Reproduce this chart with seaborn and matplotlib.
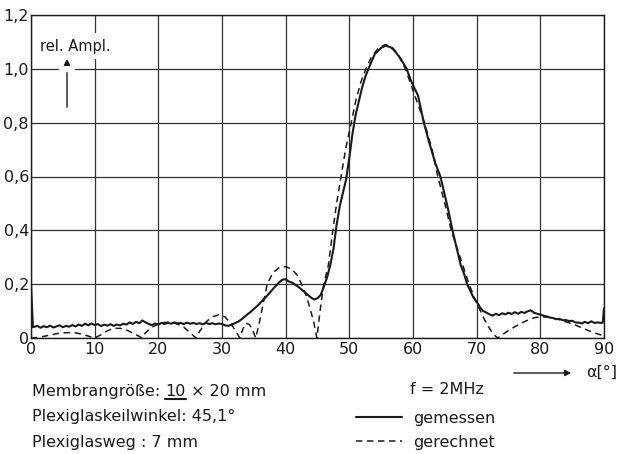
import numpy as np
import pandas as pd
import matplotlib
matplotlib.use("Agg")
import matplotlib.pyplot as plt
import matplotlib.patheffects as pe
from matplotlib.lines import Line2D
import seaborn as sns

# ---- data ----
meas_angle = [0, 0.3, 1, 1.5, 2, 2.5, 3, 3.5, 4, 4.5, 5, 5.5, 6, 6.5, 7, 7.5, 8, 8.5, 9, 9.5,
              10, 10.5, 11, 11.5, 12, 12.5, 13, 13.5, 14, 14.5, 15, 15.5, 16, 16.5, 17, 17.5, 18, 18.5, 19, 19.5,
              20, 20.5, 21, 21.5, 22, 22.5, 23, 23.5, 24, 24.5, 25, 25.5, 26, 26.5, 27, 27.5, 28, 28.5, 29, 29.5,
              30, 30.5, 31, 31.5, 32, 32.5, 33, 33.5, 34, 34.5, 35, 35.5, 36, 36.5, 37, 37.5, 38, 38.5, 39, 39.5,
              40, 40.5, 41, 41.5, 42, 42.5, 43, 43.5, 44, 44.5, 45, 45.5, 46, 46.5, 47, 47.5, 48, 48.5, 49, 49.5,
              50, 50.5, 51, 51.5, 52, 52.5, 53, 54, 55, 55.7, 56.5, 57, 58, 59, 59.7, 60.8, 61.7, 62.5, 63.5, 64.3,
              65, 65.5, 66.2, 67, 67.5, 68, 68.5, 69, 69.5, 70, 70.5, 71, 71.5, 72, 72.5, 73, 73.5, 74, 74.5,
              75, 75.5, 76, 76.5, 77, 77.5, 78, 78.5, 79, 79.5, 80, 80.5, 81, 81.5, 82, 82.5, 83, 83.5, 84, 84.5,
              85, 85.5, 86, 86.5, 87, 87.5, 88, 88.5, 89, 89.5, 89.8, 90]
meas_amp = [0.20, 0.040, 0.045, 0.038, 0.044, 0.040, 0.046, 0.039, 0.043, 0.047, 0.040, 0.045, 0.042, 0.048, 0.043, 0.050, 0.045, 0.053, 0.047, 0.054,
            0.048, 0.052, 0.044, 0.050, 0.046, 0.051, 0.045, 0.050, 0.047, 0.053, 0.050, 0.058, 0.052, 0.060, 0.055, 0.065, 0.058, 0.052, 0.048, 0.054,
            0.050, 0.056, 0.052, 0.057, 0.053, 0.058, 0.054, 0.056, 0.052, 0.057, 0.053, 0.056, 0.052, 0.055, 0.051, 0.056, 0.052, 0.055, 0.051, 0.054,
            0.052, 0.047, 0.045, 0.050, 0.055, 0.060, 0.068, 0.078, 0.088, 0.097, 0.108, 0.118, 0.130, 0.143, 0.155, 0.168, 0.182, 0.195, 0.207, 0.217,
            0.218, 0.210, 0.206, 0.198, 0.190, 0.180, 0.170, 0.160, 0.150, 0.143, 0.148, 0.160, 0.190, 0.225, 0.270, 0.330, 0.420, 0.490, 0.540, 0.590,
            0.670, 0.760, 0.830, 0.880, 0.930, 0.970, 1.000, 1.055, 1.078, 1.086, 1.080, 1.070, 1.040, 1.000, 0.955, 0.900, 0.800, 0.730, 0.650, 0.600,
            0.530, 0.480, 0.400, 0.320, 0.270, 0.240, 0.200, 0.175, 0.150, 0.135, 0.115, 0.100, 0.095, 0.088, 0.083, 0.090, 0.085, 0.092, 0.088,
            0.094, 0.089, 0.096, 0.090, 0.097, 0.093, 0.099, 0.103, 0.094, 0.090, 0.087, 0.083, 0.080, 0.076, 0.074, 0.070, 0.071, 0.066, 0.067, 0.063,
            0.064, 0.058, 0.057, 0.054, 0.060, 0.055, 0.062, 0.056, 0.058, 0.056, 0.057, 0.110]

calc_angle = [0, 1, 2, 3, 4, 5, 6, 7, 8, 9, 10, 11, 12, 13, 14, 15, 16, 17, 17.4, 18, 19,
              20, 21, 22, 23, 24, 25, 25.9, 26.5, 27.5, 28.5, 29.5, 30.5, 31.5, 32.3, 32.8, 33.3, 33.8, 34.3, 34.8,
              35.3, 35.8, 36.5, 37.1, 38, 39, 40, 41, 41.8, 42.5, 43.3, 44, 44.4, 44.9, 45.4, 45.9, 46.7, 47.3, 48,
              48.7, 49.4, 50.3, 51, 51.8, 52.6, 53.5, 54.5, 55.6, 56.5, 57.5, 58.8, 60.3, 61.8, 63, 63.9, 65, 66,
              67.4, 68.8, 69.8, 70.6, 71.3, 71.9, 72.6, 73.3, 74, 75, 76, 77, 78, 79, 80, 81, 82, 83, 84, 85, 86,
              87, 88, 89, 90]
calc_amp = [0.0, 0.002, 0.006, 0.011, 0.016, 0.019, 0.020, 0.019, 0.014, 0.007, 0.0, 0.012, 0.027, 0.036, 0.036, 0.030, 0.018, 0.006, 0.0, 0.020, 0.040,
            0.052, 0.058, 0.058, 0.052, 0.040, 0.020, 0.0, 0.025, 0.060, 0.079, 0.086, 0.078, 0.050, 0.020, 0.0, 0.035, 0.055, 0.050, 0.030,
            0.0, 0.050, 0.130, 0.200, 0.243, 0.262, 0.265, 0.255, 0.234, 0.200, 0.153, 0.095, 0.060, 0.0, 0.100, 0.190, 0.270, 0.380, 0.500,
            0.600, 0.700, 0.800, 0.880, 0.950, 1.000, 1.045, 1.075, 1.090, 1.085, 1.060, 1.000, 0.900, 0.800, 0.700, 0.600, 0.500, 0.400,
            0.300, 0.200, 0.140, 0.100, 0.065, 0.040, 0.015, 0.0, 0.012, 0.028, 0.042, 0.055, 0.066, 0.075, 0.079, 0.078, 0.074, 0.068, 0.060, 0.053, 0.043,
            0.033, 0.023, 0.015, 0.008]

series_names = ["gemessen", "gerechnet"]
x_ticks = [0, 10, 20, 30, 40, 50, 60, 70, 80, 90]
x_ticklabels = ["0", "10", "20", "30", "40", "50", "60", "70", "80", "90"]
y_ticks = [0, 0.2, 0.4, 0.6, 0.8, 1.0, 1.2]
y_ticklabels = ["0", "0,2", "0,4", "0,6", "0,8", "1,0", "1,2"]

df = pd.concat([
    pd.DataFrame({"angle": meas_angle, "amp": meas_amp, "series": series_names[0]}),
    pd.DataFrame({"angle": calc_angle, "amp": calc_amp, "series": series_names[1]}),
], ignore_index=True)

# ---- styling ----
sns.set_theme(style="white")
plt.rcParams["font.family"] = ["DejaVu Sans"]
INK = "#1a1a1a"
FS = 11.5

fig = plt.figure(figsize=(6.18, 4.54), dpi=100)
ax = fig.add_axes([31 / 618, (454 - 338) / 454, 573 / 618, 323 / 454])

sns.lineplot(data=df, x="angle", y="amp", hue="series", style="series", size="series",
             palette={"gemessen": INK, "gerechnet": INK},
             dashes={"gemessen": "", "gerechnet": (4.2, 3.0)},
             sizes={"gemessen": 1.5, "gerechnet": 1.1},
             estimator=None, ax=ax, zorder=3)

ax.set_xlim(0, 90)
ax.set_ylim(0, 1.2)
ax.set_xticks(x_ticks)
ax.set_xticklabels(x_ticklabels)
ax.set_yticks(y_ticks)
ax.set_yticklabels(y_ticklabels)
ax.tick_params(axis="both", length=0, labelsize=11.5, colors=INK)
ax.tick_params(axis="x", pad=3)
ax.tick_params(axis="y", pad=1.5)
ax.set_xlabel("")
ax.set_ylabel("")
ax.grid(True, color="#333333", linewidth=0.9)
ax.set_axisbelow(True)
for s in ax.spines.values():
    s.set_color(INK)
    s.set_linewidth(1.0)

# legend (from seaborn handles)
sns.move_legend(ax, loc="upper left", bbox_to_anchor=(356 / 618, 1 - 411 / 454),
                bbox_transform=fig.transFigure, frameon=False, title=None,
                fontsize=FS, handlelength=2.9, handletextpad=0.7, labelspacing=0.55,
                borderpad=0, borderaxespad=0)
for t in ax.get_legend().get_texts():
    t.set_color(INK)

fig.text(410 / 618, 1 - 389 / 454, "f = 2MHz", fontsize=FS, color=INK, va="center", ha="left")

# y-axis annotation
fig.text(40 / 618, 1 - 46 / 454, "rel. Ampl.", fontsize=10.5, color=INK, va="center", ha="left",
         bbox=dict(facecolor="white", edgecolor="none", pad=4))
ax.annotate("", xy=(67 / 618, 1 - 56 / 454), xytext=(67 / 618, 1 - 110 / 454),
            xycoords="figure fraction", textcoords="figure fraction",
            arrowprops=dict(arrowstyle="-|>", color=INK, lw=1.0, mutation_scale=9,
                            path_effects=[pe.withStroke(linewidth=10, foreground="white")]))

# x-axis annotation
ax.annotate("", xy=(574 / 618, 1 - 373 / 454), xytext=(511 / 618, 1 - 373 / 454),
            xycoords="figure fraction", textcoords="figure fraction",
            arrowprops=dict(arrowstyle="-|>", color=INK, lw=1.0, mutation_scale=9))
fig.text(586 / 618, 1 - 372 / 454, "α[°]", fontsize=FS, color=INK, va="center", ha="left")

# parameter texts
renderer = fig.canvas.get_renderer()
y0 = 1 - 396 / 454
t1 = fig.text(32 / 618, y0, "Membrangröße: ", fontsize=FS, color=INK, va="baseline", ha="left")
bb1 = t1.get_window_extent(renderer)
t2 = fig.text(bb1.x1 / 618, y0, "10", fontsize=FS, color=INK, va="baseline", ha="left")
bb2 = t2.get_window_extent(renderer)
fig.add_artist(Line2D([bb2.x0 / 618, bb2.x1 / 618], [y0 - 3 / 454, y0 - 3 / 454],
                      transform=fig.transFigure, color=INK, lw=1.5))
fig.text(bb2.x1 / 618, y0, " × 20 mm", fontsize=FS, color=INK, va="baseline", ha="left")

fig.text(32 / 618, 1 - 421 / 454, "Plexiglaskeilwinkel: 45,1°", fontsize=FS, color=INK,
         va="baseline", ha="left")
fig.text(32 / 618, 1 - 447 / 454, "Plexiglasweg : 7 mm", fontsize=FS, color=INK,
         va="baseline", ha="left")

fig.savefig("out.png", dpi=100, facecolor="white")
